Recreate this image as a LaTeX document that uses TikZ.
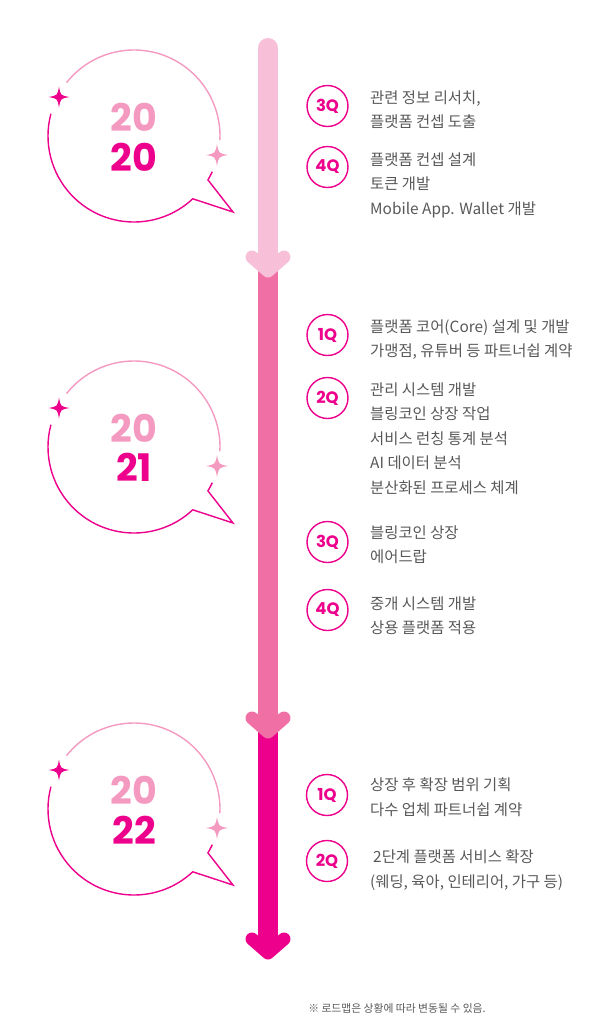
\documentclass[tikz,border=0pt]{standalone}
\usepackage{fontspec}
\usepackage{xcolor}
\definecolor{blmagenta}{RGB}{236,0,140}
\definecolor{blpink}{RGB}{244,154,193}
\definecolor{blrose}{RGB}{240,112,166}
\definecolor{blblush}{RGB}{247,192,216}
\definecolor{bltext}{RGB}{88,88,88}
\newfontfamily\krfont{Noto Sans CJK KR}
\newfontfamily\yearfont{Poppins}
\tikzset{
  bar/.style={line width=20pt},
  chev/.style={line width=13pt,line cap=round,line join=round},
  qmark/.style={circle,draw=blmagenta,line width=1.4pt,minimum size=41pt,inner sep=0pt,text=blmagenta,font=\yearfont\bfseries\fontsize{16.5}{16.5}\selectfont},
  item/.style={anchor=north west,inner sep=0pt,align=left,text=bltext,font=\krfont\fontsize{15.4}{24.5}\selectfont},
  yearup/.style={text=blpink,font=\yearfont\bfseries\fontsize{38}{38}\selectfont},
  yeardown/.style={text=blmagenta,font=\yearfont\bfseries\fontsize{38}{38}\selectfont},
  note/.style={text=bltext,font=\krfont\fontsize{10.8}{12}\selectfont},
  pics/sparkle/.style={code={
    \fill (0,-#1) .. controls (0.15*#1,-0.15*#1) .. (#1,0) .. controls (0.15*#1,0.15*#1) .. (0,#1)
      .. controls (-0.15*#1,0.15*#1) .. (-#1,0) .. controls (-0.15*#1,-0.15*#1) .. cycle;
  }},
  bubble/.pic={
    \draw[blpink,line width=1.4pt] (218.4:86) arc[start angle=218.4,end angle=362.7,radius=86];
    \draw[blmagenta,line width=1.4pt] (24.5:86) arc[start angle=24.5,end angle=30.7,radius=86]
      -- (99,76) -- (46.9:86) arc[start angle=46.9,end angle=195,radius=86];
    \pic[blmagenta] at (-75,-39) {sparkle=10.5};
    \pic[blpink] at (83,19) {sparkle=11};
  }
}

\begin{document}
\begin{tikzpicture}[x=1pt,y=-1pt]
\useasboundingbox (0,0) rectangle (614,1029);
\coordinate (top) at (268,48);
\coordinate (cap1) at (268,262);
\coordinate (tip1) at (268,271);
\coordinate (tip2) at (268,732);
\coordinate (tip3) at (268,953);
\draw[bar,blmagenta] (tip2)--(tip3);
\draw[chev,blmagenta] ([shift={(-16,-14)}]tip3)--(tip3)--([shift={(16,-14)}]tip3);
\draw[bar,blrose] (tip1)--(tip2);
\draw[chev,blrose] ([shift={(-16,-14)}]tip2)--(tip2)--([shift={(16,-14)}]tip2);
\draw[bar,blblush,line cap=round] (top)--(cap1);
\draw[chev,blblush] ([shift={(-16,-14)}]tip1)--(tip1)--([shift={(16,-14)}]tip1);

\pic at (134,136) {bubble};
\node[yearup] (y1a) at (134,117){20};
\node[yeardown] (y1b) at (134,157){20};
\pic at (134,447) {bubble};
\node[yearup] (y2a) at (134,428){20};
\node[yeardown] (y2b) at (134,467){21};
\pic at (134,809) {bubble};
\node[yearup] (y3a) at (134,790){20};
\node[yeardown] (y3b) at (134,830){22};

\node[qmark] (q1) at (327.5,106){3Q};
\node[item] (i1) at (370,90.5){관련 정보 리서치,\\플랫폼 컨셉 도출};
\node[qmark] (q2) at (327.5,167){4Q};
\node[item] (i2) at (370,152.5){플랫폼 컨셉 설계\\토큰 개발\\Mobile App. Wallet 개발};
\node[qmark] (q3) at (327.5,335){1Q};
\node[item] (i3) at (370,319.5){플랫폼 코어(Core) 설계 및 개발\\가맹점, 유튜버 등 파트너쉽 계약};
\node[qmark] (q4) at (327.5,398){2Q};
\node[item] (i4) at (370,382.5){관리 시스템 개발\\블링코인 상장 작업\\서비스 런칭 통계 분석\\AI 데이터 분석\\분산화된 프로세스 체계};
\node[qmark] (q5) at (327.5,542){3Q};
\node[item] (i5) at (370,525.5){블링코인 상장\\에어드랍};
\node[qmark] (q6) at (327.5,610){4Q};
\node[item] (i6) at (370,596.5){중개 시스템 개발\\상용 플랫폼 적용};
\node[qmark] (q7) at (327,795){1Q};
\node[item] (i7) at (370,777.5){상장 후 확장 범위 기획\\다수 업체 파트너쉽 계약};
\node[qmark] (q8) at (327,861){2Q};
\node[item] (i8) at (370,849.5){\hspace{3pt}2단계 플랫폼 서비스 확장\\(웨딩, 육아, 인테리어, 가구 등)};

\node[note] (n1) at (397,1008){※ 로드맵은 상황에 따라 변동될 수 있음.};
\end{tikzpicture}
\end{document}
